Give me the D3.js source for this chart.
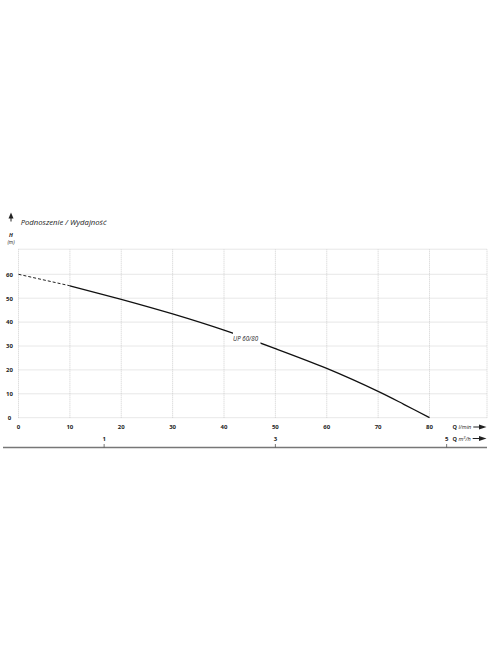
<!DOCTYPE html>
<html><head><meta charset="utf-8">
<script src="https://cdn.jsdelivr.net/npm/d3@7"></script>
<style>
html,body{margin:0;padding:0;background:#fff;}
svg text{font-family:"Open Sans","DejaVu Sans",sans-serif;}
</style></head>
<body><svg id="c" width="496" height="664"></svg>
<script>
const flowLmin = [0, 10, 20, 30, 40, 50, 60, 70, 75, 80];
const headM    = [60, 55.2, 49.5, 43.4, 36.6, 28.9, 20.6, 11, 5.6, 0];
const xTicks = [0, 10, 20, 30, 40, 50, 60, 70, 80];
const yTicks = [0, 10, 20, 30, 40, 50, 60];
const m3hTicks = [1, 3, 5];
const seriesName = "UP 60/80";
const title = "Podnoszenie / Wydajność";

const svg = d3.select("#c");
const x = d3.scaleLinear().domain([0, 80]).range([18.5, 429.5]);
const y = d3.scaleLinear().domain([0, 70]).range([417.7, 250.4]);
const xRight = 487;

// grid
const grid = svg.append("g").attr("stroke", "#c4c4c4").attr("stroke-width", 0.8).attr("stroke-dasharray", "1,1");
xTicks.forEach(t => grid.append("line").attr("x1", x(t)).attr("x2", x(t)).attr("y1", y(0)).attr("y2", y(70.5)));
grid.append("line").attr("x1", xRight).attr("x2", xRight).attr("y1", y(0)).attr("y2", y(70.5));
yTicks.concat([70.5]).forEach(t => grid.append("line").attr("x1", x(0)).attr("x2", xRight).attr("y1", y(t)).attr("y2", y(t)));

// y tick labels
svg.append("g").selectAll("text").data(yTicks).join("text")
  .attr("x", 9.5).attr("y", d => y(d) + 2.3).attr("text-anchor", "middle")
  .attr("font-size", 6).attr("font-weight", "bold").attr("fill", "#222").text(d => d);

// x tick labels
svg.append("g").selectAll("text").data(xTicks).join("text")
  .attr("x", d => x(d)).attr("y", 429).attr("text-anchor", "middle")
  .attr("font-size", 6).attr("font-weight", "bold").attr("fill", "#222").text(d => d);

// secondary axis m3/h
const xm = d3.scaleLinear().domain([0, 80 * 60 / 1000]).range([x(0), x(80)]);
svg.append("line").attr("x1", 3).attr("x2", xRight).attr("y1", 447.5).attr("y2", 447.5)
  .attr("stroke", "#777").attr("stroke-width", 1.3);
m3hTicks.forEach(t => {
  svg.append("line").attr("x1", xm(t)).attr("x2", xm(t)).attr("y1", 444).attr("y2", 447.5)
    .attr("stroke", "#555").attr("stroke-width", 0.8);
  svg.append("text").attr("x", xm(t)).attr("y", 441).attr("text-anchor", "middle")
    .attr("font-size", 6).attr("font-weight", "bold").attr("fill", "#222").text(t);
});

// axis titles
function axisTitle(yy, unitParts) {
  const t = svg.append("text").attr("x", 452.5).attr("y", yy).attr("font-size", 5.6).attr("fill", "#222");
  t.append("tspan").attr("font-weight", "bold").text("Q ");
  unitParts.forEach(p => {
    const s = t.append("tspan").attr("font-style", "italic").text(p.t);
    if (p.sup) s.attr("font-size", 4).attr("dy", -2);
    if (p.down) s.attr("dy", 2);
  });
  const w = t.node().getComputedTextLength();
  const x0 = 452.5 + w + 2;
  svg.append("line").attr("x1", x0).attr("x2", 481).attr("y1", yy - 2).attr("y2", yy - 2).attr("stroke", "#222").attr("stroke-width", 1);
  svg.append("path").attr("d", `M479,${yy - 4.5}L486.5,${yy - 2}L479,${yy + 0.5}Z`).attr("fill", "#222");
}
axisTitle(429, [{t: "l/min"}]);
axisTitle(440.5, [{t: "m"}, {t: "3", sup: true}, {t: "/h", down: true}]);

// H title and arrow
svg.append("line").attr("x1", 11).attr("x2", 11).attr("y1", 216).attr("y2", 221.5).attr("stroke", "#222").attr("stroke-width", 1);
svg.append("path").attr("d", "M8.5,218.5L11,212.5L13.5,218.5Z").attr("fill", "#222");
svg.append("text").attr("x", 20.7).attr("y", 224.5).attr("font-size", 7.7).attr("font-style", "italic").attr("fill", "#222").text(title);
svg.append("text").attr("x", 11).attr("y", 237).attr("text-anchor", "middle").attr("font-size", 5.5).attr("font-weight", "bold").attr("font-style", "italic").attr("fill", "#222").text("H");
svg.append("text").attr("x", 11).attr("y", 243.5).attr("text-anchor", "middle").attr("font-size", 5).attr("font-style", "italic").attr("fill", "#222").text("(m)");

// curve
const pts = flowLmin.map((q, i) => [q, headM[i]]);
const line = d3.line().x(d => x(d[0])).y(d => y(d[1])).curve(d3.curveCatmullRom.alpha(0.5));
svg.append("path").datum(pts.filter(d => d[0] <= 10)).attr("d", line)
  .attr("fill", "none").attr("stroke", "#222").attr("stroke-width", 1).attr("stroke-dasharray", "3,2");
const solid = svg.append("path").datum(pts.filter(d => d[0] >= 10)).attr("d", line)
  .attr("fill", "none").attr("stroke", "#111").attr("stroke-width", 1.3);

// gap for label via mask
const defs = svg.append("defs");
const mask = defs.append("mask").attr("id", "m");
mask.append("rect").attr("x", 0).attr("y", 0).attr("width", 496).attr("height", 664).attr("fill", "#fff");
mask.append("rect").attr("x", 233).attr("y", 326).attr("width", 27.5).attr("height", 20).attr("fill", "#000");
solid.attr("mask", "url(#m)");
svg.append("text").attr("x", 245.5).attr("y", 340.5).attr("text-anchor", "middle")
  .attr("font-size", 6.2).attr("font-style", "italic").attr("fill", "#222").text(seriesName);
</script></body></html>
